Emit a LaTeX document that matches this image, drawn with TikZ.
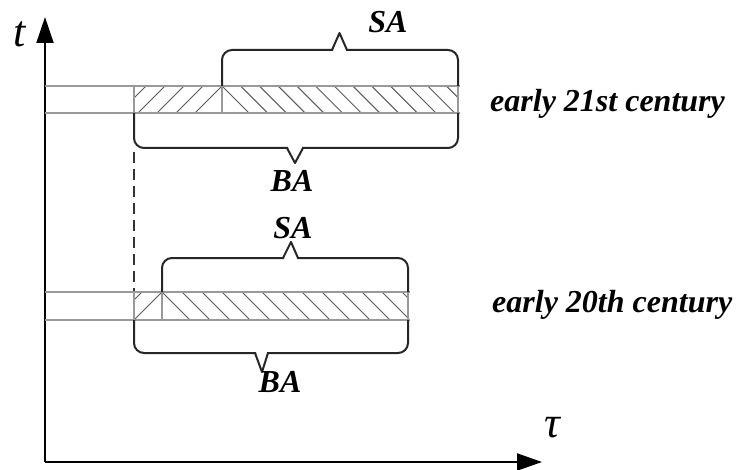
\documentclass[tikz,border=0pt]{standalone}
\usepackage{fontspec}
\setmainfont{Liberation Serif}
\usetikzlibrary{arrows.meta}
\begin{document}
\begin{tikzpicture}[x=1pt,y=-1pt,
  axisline/.style={line width=2pt,black},
  bandline/.style={line width=1.3pt,black!40},
  hatchline/.style={line width=1pt,black!65},
  bracepath/.style={line width=2pt,black!85,line join=round},
  lbl/.style={font=\fontsize{32}{36}\selectfont\bfseries\itshape,inner sep=0pt},
  axlbl/.style={inner sep=0pt,font=\fontsize{44}{48}\selectfont\itshape}]
\useasboundingbox (0,0) rectangle (738,470);
\fill[white] (0,0) rectangle (738,470);
% axes
\coordinate (O) at (45,462);
\coordinate (ytip) at (45,17);
\coordinate (xtip) at (542,462);
\draw[axisline,-{Triangle[length=26pt,width=17pt]}] (O) -- (ytip);
\draw[axisline,-{Triangle[length=25pt,width=17pt]}] (O) -- (xtip);
\node[axlbl,anchor=base] (tl) at (20,47) {t};
\node[axlbl,anchor=base] (taul) at (552,437) {τ};
% ---------- upper band ----------
\begin{scope}
\clip (134,86) rectangle (222,113);
\foreach \k in {0,...,5} \draw[hatchline] (222-\k*19-27,113) -- (222-\k*19,86);
\end{scope}
\begin{scope}
\clip (222,86) rectangle (458,113);
\foreach \k in {0,...,12} \draw[hatchline] (222+\k*18.7,86) -- (249+\k*18.7,113);
\end{scope}
\draw[bandline] (45,86) -- (460,86);
\draw[bandline] (45,113) -- (460,113);
\foreach \xx in {134,222,458} \draw[bandline] (\xx,86) -- (\xx,113);
% upper SA brace
\draw[bracepath,rounded corners=10pt] (222,86) -- (222,50) -- (333,50);
\draw[bracepath] (332,50) -- (339.5,33) -- (347,50);
\draw[bracepath,rounded corners=10pt] (346,50) -- (458,50) -- (458,86);
% upper BA brace
\draw[bracepath,rounded corners=10pt] (134,113) -- (134,148) -- (288,148);
\draw[bracepath] (287,148) -- (295,163) -- (303,148);
\draw[bracepath,rounded corners=10pt] (302,148) -- (458,148) -- (458,113);
\node[lbl,anchor=base] (sa1) at (388,33) {SA};
\node[lbl,anchor=base] (ba1) at (292,192) {BA};
\node[lbl,anchor=base west] (c21) at (490,112) {early 21st century};
% dashed link
\coordinate (d1) at (134,152);
\coordinate (d2) at (134,292);
\draw[line width=2pt,black!80,dash pattern=on 11pt off 6pt] (d1) -- (d2);
% ---------- lower band ----------
\begin{scope}
\clip (134,292) rectangle (162,320);
\foreach \k in {0,...,2} \draw[hatchline] (162-\k*20-28,320) -- (162-\k*20,292);
\end{scope}
\begin{scope}
\clip (162,292) rectangle (408,320);
\foreach \k in {0,...,12} \draw[hatchline] (162+\k*20,292) -- (190+\k*20,320);
\end{scope}
\draw[bandline] (45,292) -- (410,292);
\draw[bandline] (45,320) -- (410,320);
\foreach \xx in {134,162,408} \draw[bandline] (\xx,292) -- (\xx,320);
% lower SA brace
\draw[bracepath,rounded corners=10pt] (162,292) -- (162,258) -- (284,258);
\draw[bracepath] (283,258) -- (291,242) -- (298,258);
\draw[bracepath,rounded corners=10pt] (297,258) -- (408,258) -- (408,292);
% lower BA brace
\draw[bracepath,rounded corners=10pt] (134,320) -- (134,353) -- (256,353);
\draw[bracepath] (255,353) -- (262,372) -- (268,353);
\draw[bracepath,rounded corners=10pt] (267,353) -- (408,353) -- (408,320);
\node[lbl,anchor=base] (sa2) at (293,238) {SA};
\node[lbl,anchor=base] (ba2) at (280,392) {BA};
\node[lbl,anchor=base west] (c20) at (492,312) {early 20th century};
\end{tikzpicture}
\end{document}
